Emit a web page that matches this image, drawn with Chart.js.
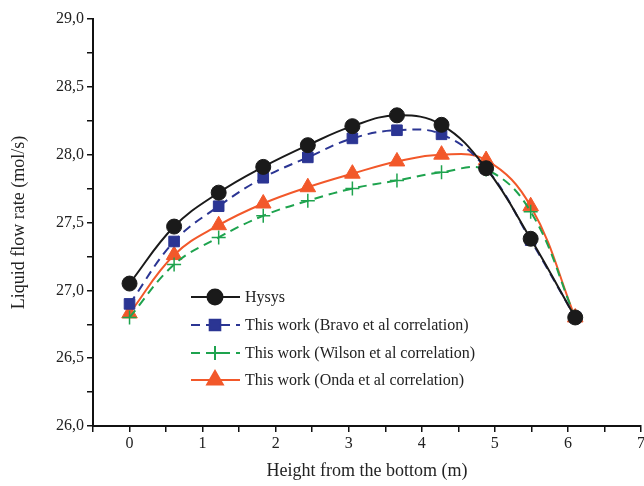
<!DOCTYPE html>
<html>
<head>
<meta charset="utf-8">
<script src="https://cdn.jsdelivr.net/npm/chart.js@4/dist/chart.umd.min.js"></script>
<style>
  body { margin: 0; background: #fff; }
  #wrap { width: 644px; height: 486px; }
</style>
</head>
<body>
<div id="wrap"><canvas id="myChart"></canvas></div>
<script>
// heights (m) along the column
const heights = [0, 0.61, 1.22, 1.83, 2.44, 3.05, 3.66, 4.27, 4.88, 5.49, 6.1];

// liquid flow rate (mol/s)
const hysys  = [27.05, 27.47, 27.72, 27.91, 28.07, 28.21, 28.29, 28.22, 27.90, 27.38, 26.80];
const bravo  = [26.90, 27.36, 27.62, 27.83, 27.98, 28.12, 28.18, 28.15, 27.90, 27.37, 26.80];
const wilson = [26.80, 27.19, 27.39, 27.55, 27.66, 27.75, 27.81, 27.87, 27.89, 27.58, 26.80];
const onda   = [26.83, 27.26, 27.48, 27.64, 27.76, 27.86, 27.95, 28.00, 27.96, 27.62, 26.80];

const seriesNames = [
    'Hysys',
    'This work (Bravo et al correlation)',
    'This work (Wilson et al correlation)',
    'This work (Onda et al correlation)'
];

function toPoints(ys) {
    return ys.map((y, i) => ({ x: heights[i], y: y }));
}

const FONT = 'Liberation Serif';

// legend drawn inside the plot, like the original
const innerLegend = {
    id: 'innerLegend',
    afterDatasetsDraw(chart) {
        const ctx = chart.ctx;
        const rows = [297, 325, 353, 380];
        chart.data.datasets.forEach((ds, i) => {
            const y = rows[i];
            ctx.save();
            ctx.strokeStyle = ds.borderColor;
            ctx.lineWidth = ds.borderWidth;
            ctx.setLineDash(ds.borderDash || []);
            ctx.beginPath();
            ctx.moveTo(191, y);
            ctx.lineTo(240, y);
            ctx.stroke();
            ctx.setLineDash([]);
            ctx.fillStyle = ds.pointBackgroundColor;
            ctx.strokeStyle = ds.pointBorderColor;
            Chart.helpers.drawPoint(ctx, {
                pointStyle: ds.pointStyle,
                radius: ds.pointRadius,
                rotation: 0,
                borderWidth: ds.pointBorderWidth
            }, 215, y);
            ctx.fillStyle = '#222';
            ctx.font = '16px "' + FONT + '"';
            ctx.textBaseline = 'middle';
            ctx.fillText(ds.label, 245, y + 1);
            ctx.restore();
        });
    }
};

document.addEventListener('DOMContentLoaded', function () {
    const ctx = document.getElementById('myChart').getContext('2d');

    const data = {
        datasets: [{
            label: seriesNames[0],
            data: toPoints(hysys),
            borderColor: '#1a1a1a',
            borderWidth: 2,
            pointStyle: 'circle',
            pointRadius: 7.5,
            pointBackgroundColor: '#1a1a1a',
            pointBorderColor: '#1a1a1a',
            pointBorderWidth: 1,
            tension: 0.4
        }, {
            label: seriesNames[1],
            data: toPoints(bravo),
            borderColor: '#2b3593',
            borderWidth: 2,
            borderDash: [9, 6],
            pointStyle: 'rect',
            pointRadius: 7.5,
            pointBackgroundColor: '#2b3593',
            pointBorderColor: '#2b3593',
            pointBorderWidth: 1,
            tension: 0.4
        }, {
            label: seriesNames[2],
            data: toPoints(wilson),
            borderColor: '#1ea34e',
            borderWidth: 2,
            borderDash: [9, 6],
            pointStyle: 'cross',
            pointRadius: 7,
            pointBackgroundColor: '#1ea34e',
            pointBorderColor: '#1ea34e',
            pointBorderWidth: 1.5,
            tension: 0.4
        }, {
            label: seriesNames[3],
            data: toPoints(onda),
            borderColor: '#f2582a',
            borderWidth: 2,
            pointStyle: 'triangle',
            pointRadius: 9,
            pointBackgroundColor: '#f2582a',
            pointBorderColor: '#f2582a',
            pointBorderWidth: 1,
            tension: 0.4
        }]
    };

    const config = {
        type: 'line',
        data: data,
        options: {
            responsive: true,
            maintainAspectRatio: false,
            animation: false,
            // big markers would otherwise push the plot edge in
            layout: { autoPadding: false, padding: { top: 19, right: 3, left: 0, bottom: 0 } },
            plugins: {
                legend: { display: false },
                tooltip: { enabled: false }
            },
            scales: {
                x: {
                    type: 'linear',
                    min: -0.5,
                    max: 7,
                    afterFit: function (scale) { scale.height = 60; },
                    border: { color: '#111', width: 2 },
                    grid: { drawOnChartArea: false, drawTicks: true, tickLength: 6, color: '#111', lineWidth: 1.5 },
                    ticks: {
                        stepSize: 0.5,
                        color: '#222',
                        font: { family: FONT, size: 16 },
                        padding: 2,
                        maxRotation: 0,
                        autoSkip: false,
                        // end-aligned + offset keeps labels centred but lets the axis reach the edge
                        align: 'end',
                        labelOffset: 4,
                        callback: function (v) { return Number.isInteger(v) ? String(v) : ''; }
                    },
                    title: {
                        display: true,
                        text: 'Height from the bottom (m)',
                        color: '#222',
                        font: { family: FONT, size: 18 },
                        padding: { top: 0 }
                    }
                },
                y: {
                    min: 26,
                    max: 29,
                    afterFit: function (scale) { scale.width = 93; },
                    border: { color: '#111', width: 2 },
                    grid: { drawOnChartArea: false, drawTicks: true, tickLength: 6, color: '#111', lineWidth: 1.5 },
                    ticks: {
                        stepSize: 0.25,
                        color: '#222',
                        font: { family: FONT, size: 16 },
                        padding: 3,
                        autoSkip: false,
                        callback: function (v) {
                            return Math.abs(v * 2 - Math.round(v * 2)) < 1e-6 ? v.toFixed(1).replace('.', ',') : '';
                        }
                    },
                    title: {
                        display: true,
                        text: 'Liquid flow rate (mol/s)',
                        color: '#222',
                        font: { family: FONT, size: 18 },
                        padding: { top: 8, bottom: 2 }
                    }
                }
            }
        },
        plugins: [innerLegend]
    };

    const myChart = new Chart(ctx, config);
});
</script>
</body>
</html>
